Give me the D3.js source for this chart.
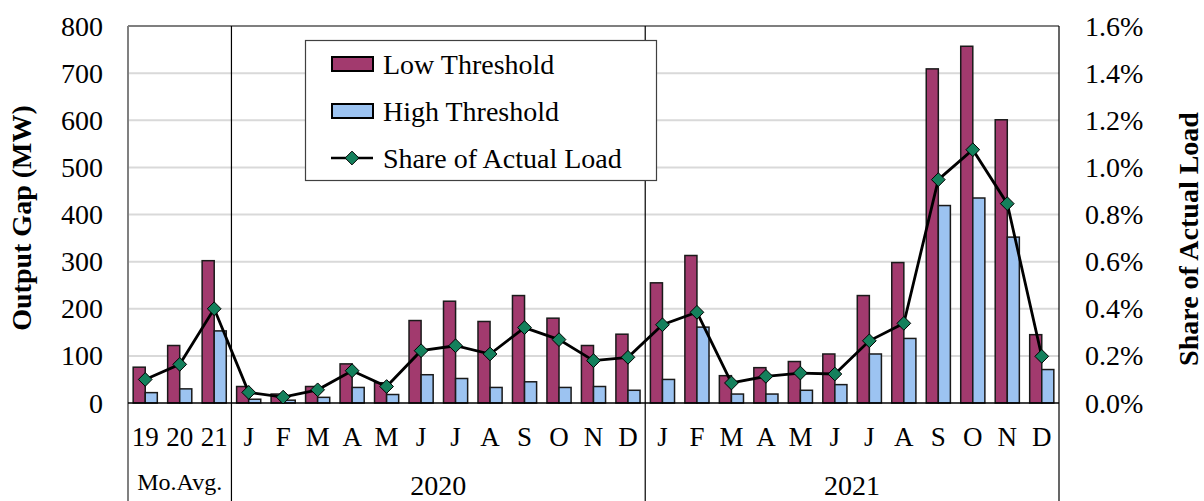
<!DOCTYPE html>
<html>
<head>
<meta charset="utf-8">
<script src="https://cdn.jsdelivr.net/npm/d3@7"></script>
<style>
  body { margin: 0; background: #fff; }
  svg { display: block; font-family: "Liberation Serif", "Times New Roman", serif; }
</style>
</head>
<body>
<div id="chart"></div>
<script>
// category labels
const avgLabels = ['19', '20', '21'];
const monthLabels = ['J', 'F', 'M', 'A', 'M', 'J', 'J', 'A', 'S', 'O', 'N', 'D'];
const groupLabels = ['Mo.Avg.', '2020', '2021'];

// output gap (MW): 3 monthly averages, then 2020 and 2021 months
const lowThreshold = [76, 122, 302,
  35, 19, 35, 83, 43, 175, 216, 173, 228, 180, 122, 146,
  255, 313, 58, 75, 88, 104, 228, 298, 709, 757, 601, 145];
const highThreshold = [22, 30, 153,
  8, 6, 12, 33, 18, 60, 52, 33, 45, 33, 35, 27,
  50, 161, 19, 19, 27, 39, 104, 137, 419, 435, 352, 71];
// share of actual load (%)
const shareOfLoad = [0.10, 0.164, 0.40,
  0.045, 0.025, 0.056, 0.137, 0.07, 0.222, 0.243, 0.208, 0.32, 0.269, 0.18, 0.194,
  0.332, 0.385, 0.085, 0.113, 0.127, 0.123, 0.264, 0.338, 0.948, 1.075, 0.846, 0.198];

const leftTicks = [0, 100, 200, 300, 400, 500, 600, 700, 800];
const rightTicks = [0, 0.2, 0.4, 0.6, 0.8, 1.0, 1.2, 1.4, 1.6];

const legendItems = ['Low Threshold', 'High Threshold', 'Share of Actual Load'];

const colors = { low: '#a23a6e', high: '#9cc3f1', marker: '#14805c' };

const width = 1204, height = 501;
const margin = { top: 26, right: 145, bottom: 98, left: 128 };

const cats = [
  ...avgLabels.map((l, i) => ({ id: 'a' + i, label: l, group: 0 })),
  ...monthLabels.map((l, i) => ({ id: 'b' + i, label: l, group: 1 })),
  ...monthLabels.map((l, i) => ({ id: 'c' + i, label: l, group: 2 }))
];
cats.forEach((c, i) => {
  c.low = lowThreshold[i];
  c.high = highThreshold[i];
  c.share = shareOfLoad[i];
});

const svg = d3.select('#chart').append('svg')
  .attr('width', width)
  .attr('height', height);

const x = d3.scaleBand()
  .domain(cats.map(d => d.id))
  .range([margin.left, width - margin.right])
  .paddingInner(0.3)
  .paddingOuter(0.15);

const x1 = d3.scaleBand()
  .domain(['low', 'high'])
  .range([0, x.bandwidth()]);

const y = d3.scaleLinear().domain([0, 800]).range([height - margin.bottom, margin.top]);
const y2 = d3.scaleLinear().domain([0, 1.6]).range([height - margin.bottom, margin.top]);

const step = x.step();
const plotL = margin.left, plotR = width - margin.right;

// gridlines
svg.append('g')
  .attr('class', 'grid')
  .selectAll('line')
  .data(leftTicks.filter(t => t > 0 && t < 800))
  .join('line')
  .attr('x1', plotL).attr('x2', plotR)
  .attr('y1', d => y(d)).attr('y2', d => y(d))
  .attr('stroke', '#d9d9d9')
  .attr('stroke-width', 2);

// bars
const bars = svg.append('g').attr('class', 'bars')
  .selectAll('g')
  .data(cats)
  .join('g')
  .attr('transform', d => `translate(${x(d.id)},0)`);

bars.selectAll('rect')
  .data(d => [{ k: 'low', v: d.low }, { k: 'high', v: d.high }])
  .join('rect')
  .attr('x', d => x1(d.k))
  .attr('y', d => y(d.v))
  .attr('width', x1.bandwidth())
  .attr('height', d => y(0) - y(d.v))
  .attr('fill', d => colors[d.k])
  .attr('stroke', '#1a1a1a')
  .attr('stroke-width', 1.5);

// frame: top, right, group separators, left axis, baseline
const frame = svg.append('g').attr('class', 'frame');
frame.append('line')
  .attr('x1', plotL).attr('x2', plotR)
  .attr('y1', margin.top).attr('y2', margin.top)
  .attr('stroke', '#000').attr('stroke-width', 1.2);
frame.append('line')
  .attr('x1', plotR).attr('x2', plotR)
  .attr('y1', margin.top).attr('y2', height)
  .attr('stroke', '#000').attr('stroke-width', 1.2);
[3, 15].forEach(i => {
  const sx = plotL + step * i;
  frame.append('line')
    .attr('x1', sx).attr('x2', sx)
    .attr('y1', margin.top).attr('y2', height)
    .attr('stroke', '#000').attr('stroke-width', 1.2);
});
frame.append('line')
  .attr('x1', plotL).attr('x2', plotL)
  .attr('y1', margin.top).attr('y2', height)
  .attr('stroke', '#808080').attr('stroke-width', 2);
frame.append('line')
  .attr('x1', plotL).attr('x2', plotR)
  .attr('y1', y(0)).attr('y2', y(0))
  .attr('stroke', '#000').attr('stroke-width', 1.5);

// share line + diamond markers
const cx = d => x(d.id) + x.bandwidth() / 2;
svg.append('path')
  .datum(cats)
  .attr('fill', 'none')
  .attr('stroke', '#000')
  .attr('stroke-width', 2.8)
  .attr('d', d3.line().x(cx).y(d => y2(d.share)));

const diamond = d3.symbol().type(d3.symbolDiamond2).size(120);
svg.append('g').attr('class', 'markers')
  .selectAll('path')
  .data(cats)
  .join('path')
  .attr('transform', d => `translate(${cx(d)},${y2(d.share)})`)
  .attr('d', diamond)
  .attr('fill', colors.marker)
  .attr('stroke', '#000')
  .attr('stroke-width', 1);

// left axis labels
svg.append('g')
  .selectAll('text')
  .data(leftTicks)
  .join('text')
  .attr('x', 103)
  .attr('y', d => y(d))
  .attr('dy', '0.34em')
  .attr('text-anchor', 'end')
  .attr('font-size', 28)
  .text(d => d);

// right axis labels
svg.append('g')
  .selectAll('text')
  .data(rightTicks)
  .join('text')
  .attr('x', 1085)
  .attr('y', d => y2(d))
  .attr('dy', '0.34em')
  .attr('font-size', 28)
  .text(d => d.toFixed(1) + '%');

// category labels
svg.append('g')
  .selectAll('text')
  .data(cats)
  .join('text')
  .attr('x', cx)
  .attr('y', 446)
  .attr('text-anchor', 'middle')
  .attr('font-size', 27)
  .text(d => d.label);

// group labels
const groupSpan = [[0, 3], [3, 15], [15, 27]];
svg.append('g')
  .selectAll('text')
  .data(groupLabels)
  .join('text')
  .attr('x', (d, i) => plotL + step * (groupSpan[i][0] + groupSpan[i][1]) / 2)
  .attr('y', (d, i) => i === 0 ? 490 : 495)
  .attr('text-anchor', 'middle')
  .attr('font-size', (d, i) => i === 0 ? 24 : 28)
  .text(d => d);

// axis titles
svg.append('text')
  .attr('transform', `translate(31,218) rotate(-90)`)
  .attr('text-anchor', 'middle')
  .attr('font-size', 28)
  .attr('font-weight', 'bold')
  .text('Output Gap (MW)');

svg.append('text')
  .attr('transform', `translate(1198,239) rotate(-90)`)
  .attr('text-anchor', 'middle')
  .attr('font-size', 28)
  .attr('font-weight', 'bold')
  .text('Share of Actual Load');

// legend
const legend = svg.append('g').attr('class', 'legend');
legend.append('rect')
  .attr('x', 305.5).attr('y', 40.5)
  .attr('width', 351).attr('height', 140)
  .attr('fill', '#fff')
  .attr('stroke', '#404040')
  .attr('stroke-width', 1.2);

const rowY = [64, 111, 158];
legendItems.forEach((name, i) => {
  const g = legend.append('g').attr('transform', `translate(0,${rowY[i]})`);
  if (i < 2) {
    g.append('rect')
      .attr('x', 332).attr('y', -7)
      .attr('width', 41).attr('height', 14)
      .attr('fill', i === 0 ? colors.low : colors.high)
      .attr('stroke', '#000')
      .attr('stroke-width', 2);
  } else {
    g.append('line')
      .attr('x1', 331).attr('x2', 373)
      .attr('stroke', '#000').attr('stroke-width', 2.5);
    g.append('path')
      .attr('transform', 'translate(352,0)')
      .attr('d', diamond)
      .attr('fill', colors.marker)
      .attr('stroke', '#000')
      .attr('stroke-width', 1);
  }
  g.append('text')
    .attr('x', 383)
    .attr('dy', '0.34em')
    .attr('font-size', 28)
    .text(name);
});
</script>
</body>
</html>
